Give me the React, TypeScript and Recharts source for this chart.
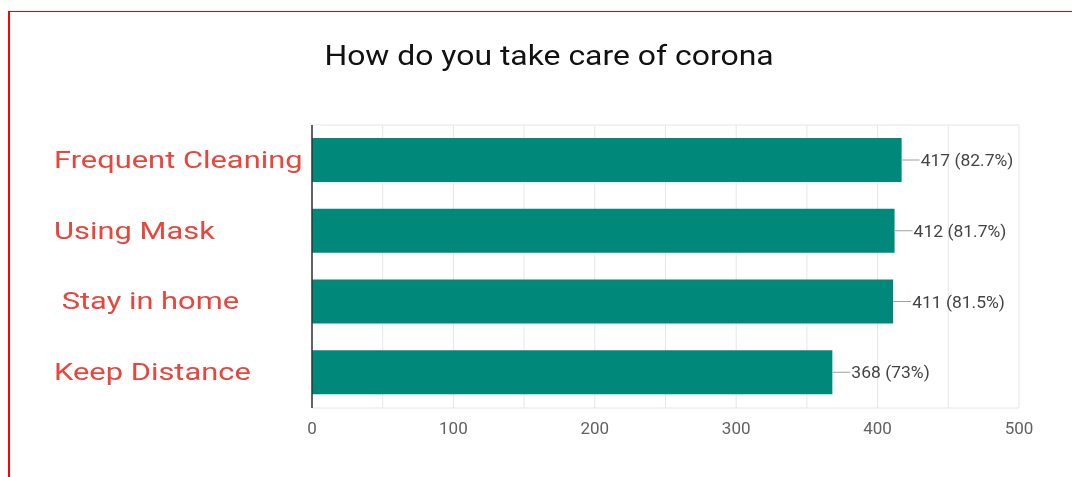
import React from 'react';
import { BarChart, Bar, XAxis, YAxis, CartesianGrid, LabelList } from 'recharts';

const categories = ['Frequent Cleaning', 'Using Mask', ' Stay in home', 'Keep Distance'];
const counts = [417, 412, 411, 368];
const percents = ['82.7%', '81.7%', '81.5%', '73%'];
const xTicks = [0, 50, 100, 150, 200, 250, 300, 350, 400, 450, 500];
const title = 'How do you take care of corona';

const data = categories.map((c, i) => ({ name: c, value: counts[i], pct: percents[i] }));

const CategoryTick = (props: any) => {
  const { y, payload } = props;
  return (
    <text
      transform={`translate(46, ${y + 7.5}) scale(1.26, 1)`}
      x={0}
      y={0}
      fill="#E8453C"
      fontSize={24.5}
      fontFamily="Roboto"
      textAnchor="start"
      xmlSpace="preserve"
      style={{ whiteSpace: 'pre' }}
    >
      {payload.value}
    </text>
  );
};

const ValueLabel = (props: any) => {
  const { x, y, width, height, index } = props;
  const ex = x + width;
  const cy = y + height / 2;
  return (
    <g>
      <line x1={ex} y1={cy} x2={ex + 18} y2={cy} stroke="#9e9e9e" strokeWidth={1} />
      <text
        transform={`translate(${ex + 19}, ${cy + 6}) scale(1.06, 1)`}
        x={0}
        y={0}
        fill="#444"
        fontSize={16.5}
        fontFamily="Roboto"
        textAnchor="start"
      >
        {`${counts[index]} (${percents[index]})`}
      </text>
    </g>
  );
};

export default function App() {
  return (
    <div style={{ position: 'relative', width: 1064, height: 461, background: '#fff' }}>
      <div
        style={{
          position: 'fixed',
          left: 8,
          top: 11,
          width: 1064,
          height: 466,
          borderLeft: '2px solid #ff0000',
          borderTop: '1.5px solid #cc1111',
          boxSizing: 'border-box',
          pointerEvents: 'none',
        }}
      />
      <svg width={1064} height={80} style={{ position: 'absolute', left: 0, top: 0 }}>
        <text
          transform={`translate(541, 57) scale(1.14, 1)`}
          x={0}
          y={0}
          textAnchor="middle"
          fontSize={28}
          fontFamily="Roboto"
          fill="#111"
        >
          {title}
        </text>
      </svg>
      <div style={{ position: 'absolute', left: 0, top: 0 }}>
        <BarChart
          width={1064}
          height={461}
          data={data}
          layout="vertical"
          margin={{ top: 117, right: 53, bottom: 31, left: 0 }}
        >
          <CartesianGrid
            stroke="#e6e6e6"
            horizontalCoordinatesGenerator={({ offset }: any) => [offset.top, offset.top + offset.height]}
          />
          <XAxis
            type="number"
            domain={[0, 500]}
            ticks={xTicks}
            interval={0}
            axisLine={false}
            tickLine={false}
            tickMargin={8}
            tickFormatter={(v: number) => (v % 100 === 0 ? String(v) : '')}
            tick={{ fill: '#616161', fontSize: 17, fontFamily: 'Roboto' }}
          />
          <YAxis
            type="category"
            dataKey="name"
            width={304}
            axisLine={{ stroke: '#333', strokeWidth: 1.5 }}
            tickLine={false}
            tick={<CategoryTick />}
          />
          <Bar dataKey="value" fill="#00897B" barSize={44} isAnimationActive={false}>
            <LabelList dataKey="value" content={<ValueLabel />} />
          </Bar>
        </BarChart>
      </div>
    </div>
  );
}
